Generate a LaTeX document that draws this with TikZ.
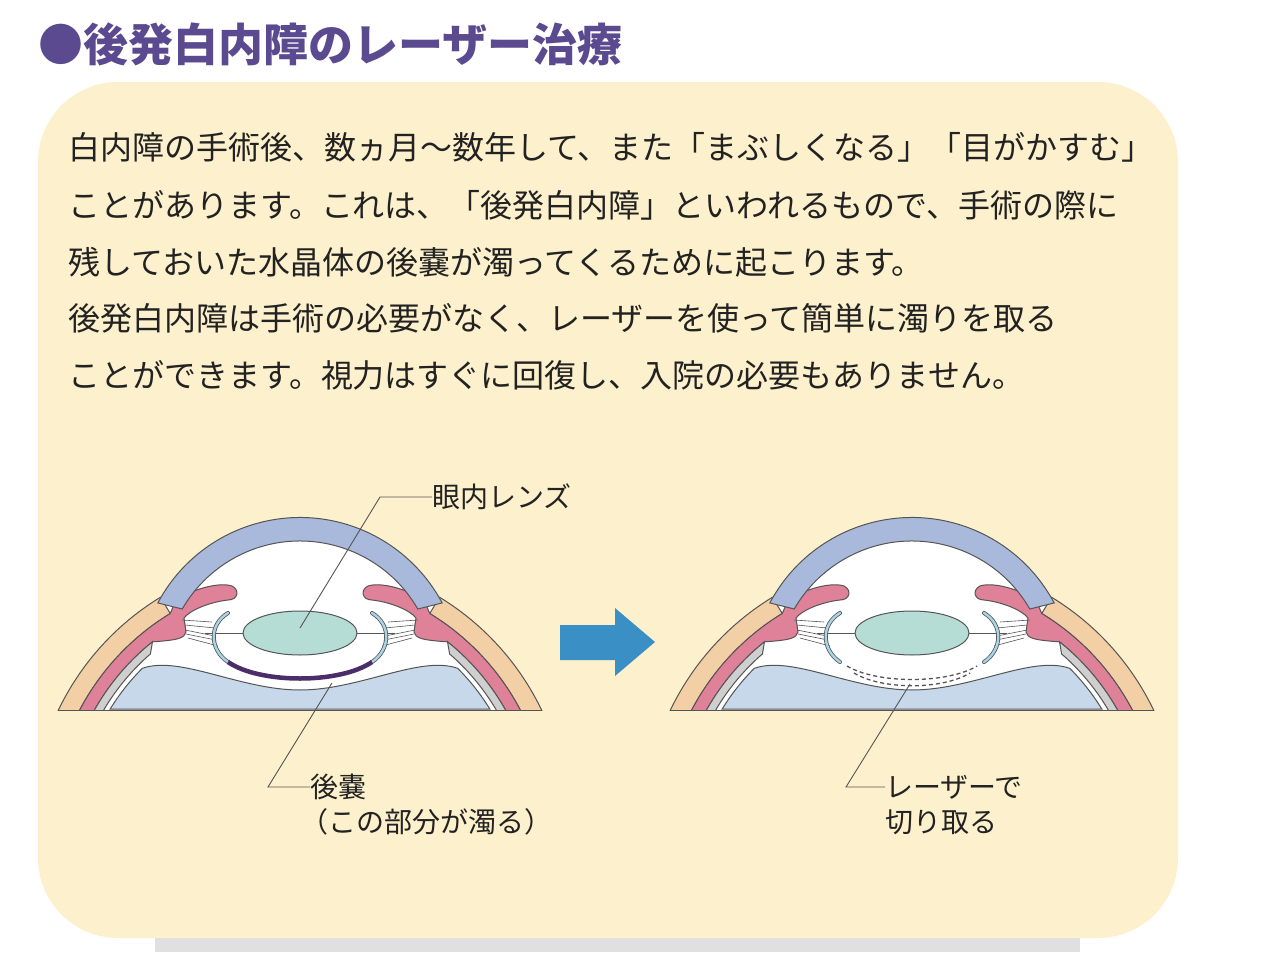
\documentclass[tikz,border=0pt]{standalone}
\usepackage{fontspec}
\setmainfont{Noto Sans CJK JP}
\definecolor{panel}{HTML}{FDF0CC}
\definecolor{ttl}{HTML}{5B4A8F}
\definecolor{tan}{HTML}{F2CFA4}
\definecolor{pinkc}{HTML}{DF8199}
\definecolor{corn}{HTML}{A9B9DC}
\definecolor{grayb}{HTML}{CFCFCF}
\definecolor{vit}{HTML}{C6D8EA}
\definecolor{lensc}{HTML}{B5DDD5}
\definecolor{capb}{HTML}{A8D4E6}
\definecolor{purp}{HTML}{4B2D6B}
\definecolor{ol}{HTML}{555555}
\definecolor{arr}{HTML}{3A8FC4}
\definecolor{txt}{HTML}{222222}
\tikzset{
  bodytxt/.style={anchor=west,inner sep=0pt,text=txt,font=\fontsize{32}{36}\selectfont},
  lbl/.style={anchor=west,inner sep=0pt,text=txt,font=\fontsize{28}{32}\selectfont},
  outl/.style={draw=ol,line width=1pt},
  callout/.style={draw=ol,line width=0.9pt}
}
\newcommand\halfeye{%
  \begin{scope}[shift={(0,-116)}]
    \fill[tan,outl] (180:268) arc(180:121.4:268) -- (121.4:249) arc(121.4:180:249) -- cycle;
    \fill[pinkc,outl] (180:249) arc(180:121.4:249) -- (-124,226) .. controls (-105,238) and (-80,244) .. (-68,240) .. controls (-60,236) and (-62,226) .. (-72,226) .. controls (-90,224) and (-110,216) .. (-116,208) -- (-114,194) .. controls (-116,188) and (-120,186) .. (128.7:236) arc(128.7:180:236) -- cycle;
    \fill[grayb,outl] (128.7:236) arc(128.7:180:236) -- (180:228) arc(180:131:228) -- cycle;
  \end{scope}
  \draw[ol,line width=0.6pt] (-115,85) -- (-85,82) (-115,80) -- (-85,74) (-112,72) -- (-82,64) (-118,90) -- (-88,88) (-114,76) -- (-84,70);
}
\newcommand\eye[2]{%
\begin{scope}[shift={(#1,710)},yscale=-1]
  \begin{scope}
  \clip (-300,0) rectangle (300,260);
  \fill[white] ([shift={(0,-116)}]121.4:268) arc(121.4:180:268) -- ([shift={(0,-116)}]0:268) arc(0:58.6:268) -- cycle;
  \fill[white] ([shift={(0,31.5)}]151:160.5) arc(151:29:160.5) -- cycle;
  \halfeye
  \begin{scope}[xscale=-1]\halfeye\end{scope}
  \fill[vit,outl] ([shift={(0,-116)}]148.4:223) arc(148.4:135:223) .. controls (-120,55) and (-60,20) .. (0,20) .. controls (60,20) and (120,55) .. ([shift={(0,-116)}]45:223) arc(45:31.6:223) -- cycle;
  \end{scope}
  \draw[ol,line width=1pt] (-242,0) -- (242,0);
  \fill[corn,outl] ([shift={(0,31.5)}]152:161) arc(152:28:161) -- ([shift={(0,33)}]30:136) arc(30:150:136) -- cycle;
  \draw[ol,line width=0.7pt] (-95,77) -- (95,77);
  \fill[lensc,outl] (0,77) ellipse (57 and 22);
  \foreach \s in {1,-1}{
    \draw[ol,line width=4pt,line cap=round] ({\s*(-72)},97) .. controls ({\s*(-92)},85) and ({\s*(-90)},60) .. ({\s*(-72)},48);
    \draw[capb,line width=2.4pt,line cap=round] ({\s*(-72)},97) .. controls ({\s*(-92)},85) and ({\s*(-90)},60) .. ({\s*(-72)},48);
  }
  #2
\end{scope}}
\begin{document}
\begin{tikzpicture}[x=1pt,y=-1pt]
\useasboundingbox (0,0) rectangle (1270,980);
\fill[white] (0,0) rectangle (1270,980);
\fill[black!12] (155,930) rectangle (1080,952);
\fill[panel,rounded corners=80pt] (38,82) rectangle (1178,938);
\node[anchor=west,inner sep=0pt,text=ttl,font=\fontsize{45}{48}\selectfont\bfseries] (title) at (38,44) {●後発白内障のレーザー治療};
\node[bodytxt] (l1) at (68,147) {白内障の手術後、数ヵ月～数年して、また「まぶしくなる」「目がかすむ」};
\node[bodytxt] (l2) at (68,205) {ことがあります。これは、「後発白内障」といわれるもので、手術の際に};
\node[bodytxt] (l3) at (68,262) {残しておいた水晶体の後嚢が濁ってくるために起こります。};
\node[bodytxt] (l4) at (68,318) {後発白内障は手術の必要がなく、レーザーを使って簡単に濁りを取る};
\node[bodytxt] (l5) at (68,375) {ことができます。視力はすぐに回復し、入院の必要もありません。};
\eye{300}{\draw[purp,line width=4.5pt] (-72,48) .. controls (-40,26) and (40,26) .. (72,48);}
\eye{912}{\draw[ol,line width=1.3pt,dash pattern=on 4pt off 3pt] (-65,44) .. controls (-35,26) and (35,26) .. (65,44);
  \draw[ol,line width=1.3pt,dash pattern=on 4pt off 3pt] (-58,37) .. controls (-30,20) and (30,20) .. (58,37);}
\fill[arr] (560,625) -- (615,625) -- (615,608) -- (655,642) -- (615,676) -- (615,660) -- (560,660) -- cycle;
\node[lbl] (lens) at (432,497) {眼内レンズ};
\coordinate (lensp) at (300,628);
\coordinate (lensk) at (380,497);
\draw[callout] (lensp) -- (lensk) -- (lens.west);
\node[lbl] (cap) at (310,787) {後嚢};
\node[lbl] (cap2) at (300,822) {（この部分が濁る）};
\coordinate (capp) at (332,683);
\coordinate (capk) at (268,787);
\draw[callout] (capp) -- (capk) -- (cap.west);
\node[lbl] (las) at (885,787) {レーザーで};
\node[lbl] (las2) at (885,822) {切り取る};
\coordinate (lasp) at (910,684);
\coordinate (lask) at (846,787);
\draw[callout] (lasp) -- (lask) -- (las.west);
\end{tikzpicture}
\end{document}
